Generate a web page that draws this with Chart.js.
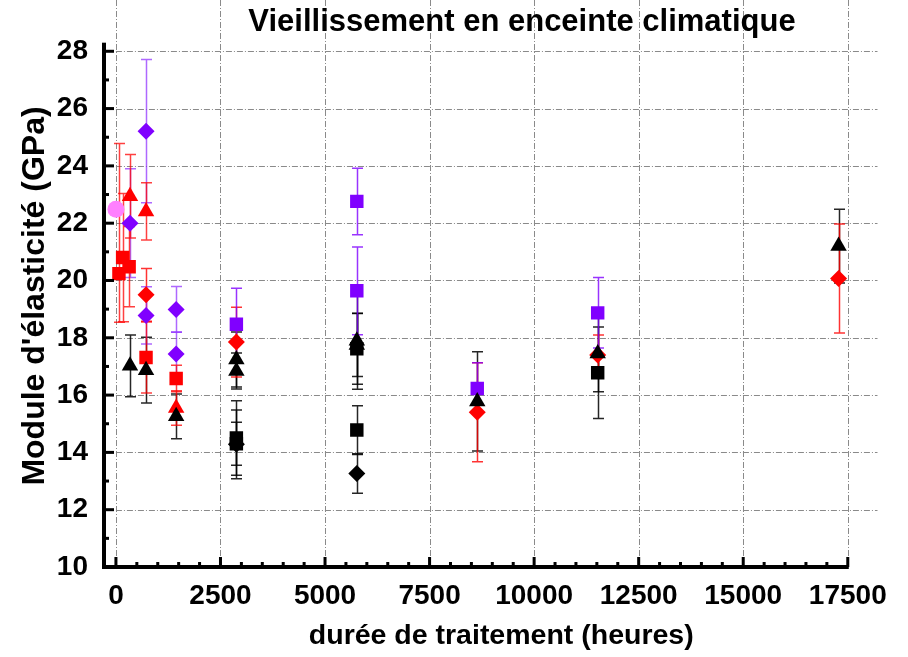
<!DOCTYPE html>
<html>
<head>
<meta charset="utf-8">
<script src="https://cdn.jsdelivr.net/npm/chart.js@4.4.1/dist/chart.umd.min.js"></script>
<style>
  html, body { margin: 0; background: #fff; }
  #wrap { width: 908px; height: 657px; }
</style>
</head>
<body>
<div id="wrap"><canvas id="chart"></canvas></div>
<script>
// tick labels
const xTickValues = [0, 2500, 5000, 7500, 10000, 12500, 15000, 17500];
const yTickValues = [10, 12, 14, 16, 18, 20, 22, 24, 26, 28];

// red squares
const redSquareHours = [72, 160, 316, 720, 1440];
const redSquareModulus = [20.24, 20.8, 20.48, 17.31, 16.58];
const redSquareErrUp = [4.54, 2.24, 1.4, 1.24, 0.46];
const redSquareErrDown = [1.7, 2.24, 1.4, 1.24, 0.46];

// red triangles
const redTriangleHours = [336, 720, 1440];
const redTriangleModulus = [22.94, 22.41, 15.55];
const redTriangleErr = [1.46, 1.0, 0.6];

// red diamonds
const redDiamondHours = [720, 2880, 8640, 11520, 17280];
const redDiamondModulus = [19.5, 17.85, 15.4, 17.4, 20.07];
const redDiamondErr = [0.92, 1.22, 1.73, 0.7, 1.9];

// purple diamonds
const purpleDiamondHours = [336, 720, 720, 1440, 1440];
const purpleDiamondModulus = [22.0, 25.21, 18.78, 18.99, 17.43];
const purpleDiamondErr = [1.9, 2.5, 1.0, 0.8, 0.77];

// purple squares
const purpleSquareHours = [2880, 5760, 5760, 8640, 11520];
const purpleSquareModulus = [18.47, 22.76, 19.64, 16.23, 18.87];
const purpleSquareErr = [1.26, 1.16, 1.53, 0.9, 1.23];

// black triangles
const blackTriangleHours = [336, 720, 1440, 2880, 2880, 5760, 5760, 8640, 11520, 17280];
const blackTriangleModulus = [17.02, 16.87, 15.26, 17.24, 16.84, 17.9, 17.75, 15.78, 17.45, 21.2];
const blackTriangleErr = [1.08, 1.15, 0.78, 0.96, 0.63, 1.7, 1.1, 1.73, 1.33, 1.29];

// black squares
const blackSquareHours = [2880, 2880, 5760, 5760, 11520];
const blackSquareModulus = [14.5, 14.3, 17.62, 14.78, 16.78];
const blackSquareErr = [1.3, 0.75, 1.24, 0.85, 1.6];

// black diamonds
const blackDiamondHours = [2880, 5760];
const blackDiamondModulus = [14.28, 13.26];
const blackDiamondErr = [1.2, 0.69];

// pink point at t = 0
const pinkHours = [0];
const pinkModulus = [22.49];
const pinkErr = [0];

const FONT = "'Liberation Sans', Arial, sans-serif";

function pts(hours, mod) {
  return hours.map((h, i) => ({ x: h, y: mod[i] }));
}

function series(label, hours, mod, errUp, errDown, style, color, barColor, radius) {
  return {
    label: label,
    data: pts(hours, mod),
    errUp: errUp,
    errDown: errDown || errUp,
    barColor: barColor,
    showLine: false,
    pointStyle: style,
    pointRadius: radius,
    pointHoverRadius: radius,
    pointBackgroundColor: color,
    pointBorderColor: color,
    pointBorderWidth: 0,
    backgroundColor: color,
    borderColor: color
  };
}

// first dataset is drawn on top
const datasets = [
  series('noir diamant', blackDiamondHours, blackDiamondModulus, blackDiamondErr, null, 'rectRot', '#000', 'rgba(0,0,0,0.85)', 8.5),
  series('noir carré', blackSquareHours, blackSquareModulus, blackSquareErr, null, 'rect', '#000', 'rgba(0,0,0,0.85)', 9.5),
  series('noir triangle', blackTriangleHours, blackTriangleModulus, blackTriangleErr, null, 'triangle', '#000', 'rgba(0,0,0,0.85)', 9.5),
  series('rouge diamant', redDiamondHours, redDiamondModulus, redDiamondErr, null, 'rectRot', '#ff0000', 'rgba(255,0,0,0.8)', 8.5),
  series('violet carré', purpleSquareHours, purpleSquareModulus, purpleSquareErr, null, 'rect', '#8000ff', 'rgba(128,0,255,0.8)', 9.5),
  series('violet diamant', purpleDiamondHours, purpleDiamondModulus, purpleDiamondErr, null, 'rectRot', '#8000ff', 'rgba(140,40,255,0.7)', 8.5),
  series('rouge triangle', redTriangleHours, redTriangleModulus, redTriangleErr, null, 'triangle', '#ff0000', 'rgba(255,0,0,0.75)', 9.5),
  series('rouge carré', redSquareHours, redSquareModulus, redSquareErrUp, redSquareErrDown, 'rect', '#ff0000', 'rgba(255,0,0,0.75)', 9.5),
  series('rose', pinkHours, pinkModulus, pinkErr, null, 'circle', '#ff80ff', 'rgba(255,128,255,0.8)', 8.5)
];

// dash-dot grid, axes with inward ticks, error bars
const originStyle = {
  id: 'originStyle',
  beforeDatasetsDraw(chart) {
    const ctx = chart.ctx;
    const xs = chart.scales.x, ys = chart.scales.y;
    const area = chart.chartArea;
    ctx.save();
    ctx.strokeStyle = '#8a8a8a';
    ctx.lineWidth = 1;
    ctx.setLineDash([6, 2, 1, 2]);
    yTickValues.slice(1).forEach(v => {
      const y = Math.round(ys.getPixelForValue(v)) + 0.5;
      ctx.beginPath();
      ctx.moveTo(xs.getPixelForValue(0), y);
      ctx.lineTo(area.right - 21, y);
      ctx.stroke();
    });
    xTickValues.forEach(v => {
      const x = Math.round(xs.getPixelForValue(v)) + 0.5;
      ctx.beginPath();
      ctx.moveTo(x, ys.getPixelForValue(10));
      ctx.lineTo(x, 0);
      ctx.stroke();
    });
    ctx.setLineDash([]);

    // error bars
    chart.data.datasets.forEach((ds, i) => {
      const meta = chart.getDatasetMeta(i);
      ctx.strokeStyle = ds.barColor;
      ctx.lineWidth = 1.5;
      meta.data.forEach((pt, j) => {
        const up = ds.errUp[j], dn = ds.errDown[j];
        if (!up && !dn) return;
        const v = ds.data[j].y;
        const yTop = ys.getPixelForValue(v + up);
        const yBot = ys.getPixelForValue(v - dn);
        const x = Math.round(pt.x) + 0.5;
        ctx.beginPath();
        ctx.moveTo(x, yTop); ctx.lineTo(x, yBot);
        ctx.moveTo(x - 5.5, yTop); ctx.lineTo(x + 5.5, yTop);
        ctx.moveTo(x - 5.5, yBot); ctx.lineTo(x + 5.5, yBot);
        ctx.stroke();
      });
    });
    ctx.restore();
  },
  afterDraw(chart) {
    const ctx = chart.ctx;
    const xs = chart.scales.x, ys = chart.scales.y;
    const x0 = chart.chartArea.left;
    const y0 = ys.getPixelForValue(10);
    ctx.save();
    ctx.fillStyle = '#000';
    // axis lines
    ctx.fillRect(x0 - 2, ys.getPixelForValue(28.3), 4, y0 - ys.getPixelForValue(28.3) + 2);
    ctx.fillRect(x0 - 2, y0 - 2, xs.getPixelForValue(17500) - x0 + 3, 4);
    // y ticks (inward)
    for (let v = 11; v <= 28; v++) {
      const y = ys.getPixelForValue(v);
      const major = v % 2 === 0;
      ctx.fillRect(x0, y - 1.5, major ? 10 : 5, 3);
    }
    // x ticks (inward)
    for (let v = 0; v <= 17500; v += 500) {
      const x = xs.getPixelForValue(v);
      const major = v % 2500 === 0;
      ctx.fillRect(x - 1.5, y0 - (major ? 10 : 5), 3, major ? 10 : 5);
    }
    // title
    ctx.font = 'bold 31px ' + FONT;
    ctx.textAlign = 'center';
    ctx.textBaseline = 'alphabetic';
    ctx.fillText('Vieillissement en enceinte climatique', 522, 31);
    // y axis title
    ctx.translate(35, 296);
    ctx.rotate(-Math.PI / 2);
    ctx.font = 'bold 32px ' + FONT;
    ctx.textBaseline = 'middle';
    ctx.fillText("Module d'élasticité (GPa)", 0, 0);
    ctx.restore();
  }
};

new Chart(document.getElementById('chart'), {
  type: 'scatter',
  data: { datasets: datasets },
  plugins: [originStyle],
  options: {
    responsive: true,
    maintainAspectRatio: false,
    animation: false,
    layout: { padding: { top: 2, right: 0, bottom: 0, left: 0 } },
    plugins: {
      legend: { display: false },
      tooltip: { enabled: false }
    },
    scales: {
      x: {
        type: 'linear',
        min: -285.3,
        max: 18713,
        grid: { display: false, drawTicks: false },
        border: { display: false },
        afterBuildTicks: s => { s.ticks = xTickValues.map(v => ({ value: v })); },
        afterFit: s => { s.height = 90; s.paddingLeft = 0; s.paddingRight = 0; },
        ticks: {
          autoSkip: false,
          maxRotation: 0,
          padding: 12,
          color: '#000',
          font: { family: FONT, size: 28, weight: 'bold' },
          callback: v => String(v)
        },
        title: {
          display: true,
          text: 'durée de traitement (heures)',
          color: '#000',
          font: { family: FONT, size: 28.5, weight: 'bold' },
          padding: { top: 0, bottom: 4 }
        }
      },
      y: {
        type: 'linear',
        min: 10,
        max: 29.458,
        grid: { display: false, drawTicks: false },
        border: { display: false },
        afterBuildTicks: s => { s.ticks = yTickValues.map(v => ({ value: v })); },
        afterFit: s => { s.width = 104; s.paddingTop = 0; s.paddingBottom = 0; },
        ticks: {
          autoSkip: false,
          padding: 16,
          color: '#000',
          font: { family: FONT, size: 28, weight: 'bold' },
          callback: v => String(v)
        }
      }
    }
  }
});
</script>
</body>
</html>
